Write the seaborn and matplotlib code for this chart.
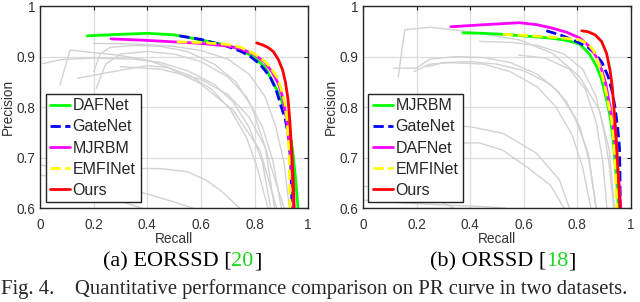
import numpy as np
import matplotlib
matplotlib.use("Agg")
import matplotlib.pyplot as plt
from matplotlib.ticker import FuncFormatter
import seaborn as sns

# ---- data (recall, precision) ----
# (a) EORSSD
dafnet_a_r = [0.176, 0.30, 0.40, 0.50, 0.60, 0.70, 0.75, 0.80, 0.84, 0.875, 0.90, 0.915, 0.93, 0.942, 0.952, 0.962]
dafnet_a_p = [0.941, 0.944, 0.946, 0.943, 0.933, 0.922, 0.913, 0.898, 0.878, 0.843, 0.815, 0.79, 0.755, 0.715, 0.665, 0.60]
gatenet_a_r = [0.52, 0.60, 0.70, 0.75, 0.785, 0.82, 0.858, 0.88, 0.90, 0.915, 0.927, 0.935, 0.940]
gatenet_a_p = [0.941, 0.934, 0.920, 0.91, 0.90, 0.885, 0.86, 0.835, 0.80, 0.775, 0.741, 0.69, 0.60]
mjrbm_a_r = [0.265, 0.40, 0.50, 0.60, 0.70, 0.75, 0.80, 0.835, 0.865, 0.89, 0.905, 0.92, 0.932, 0.940, 0.946]
mjrbm_a_p = [0.935, 0.932, 0.929, 0.926, 0.921, 0.915, 0.904, 0.89, 0.87, 0.845, 0.82, 0.775, 0.72, 0.67, 0.60]
emfinet_a_r = [0.51, 0.60, 0.70, 0.75, 0.80, 0.835, 0.86, 0.885, 0.90, 0.914, 0.922, 0.928, 0.933]
emfinet_a_p = [0.929, 0.928, 0.924, 0.918, 0.905, 0.892, 0.878, 0.858, 0.835, 0.806, 0.770, 0.72, 0.60]
ours_a_r = [0.808, 0.83, 0.85, 0.87, 0.89, 0.905, 0.915, 0.925, 0.932, 0.939, 0.944, 0.948]
ours_a_p = [0.927, 0.923, 0.918, 0.91, 0.893, 0.873, 0.85, 0.815, 0.77, 0.71, 0.66, 0.60]

gray_a = [
    ([0.01, 0.08, 0.2, 0.35, 0.45, 0.55, 0.65, 0.72, 0.78, 0.83, 0.86],
     [0.886, 0.894, 0.897, 0.895, 0.888, 0.872, 0.845, 0.81, 0.76, 0.69, 0.60]),
    ([0.075, 0.112, 0.16, 0.286, 0.40, 0.472, 0.596, 0.72, 0.82, 0.882],
     [0.844, 0.913, 0.91, 0.903, 0.893, 0.88, 0.847, 0.794, 0.715, 0.60]),
    ([0.2, 0.225, 0.26, 0.35, 0.45, 0.55, 0.65, 0.73, 0.79, 0.84, 0.875],
     [0.87, 0.905, 0.918, 0.922, 0.92, 0.91, 0.885, 0.85, 0.80, 0.72, 0.60]),
    ([0.21, 0.245, 0.30, 0.40, 0.50, 0.60, 0.70, 0.77, 0.83, 0.87, 0.90],
     [0.837, 0.885, 0.905, 0.91, 0.905, 0.89, 0.86, 0.82, 0.76, 0.69, 0.60]),
    ([0.14, 0.25, 0.40, 0.48, 0.56, 0.64, 0.71, 0.77, 0.81, 0.85],
     [0.857, 0.868, 0.882, 0.878, 0.862, 0.835, 0.795, 0.74, 0.68, 0.60]),
    ([0.2, 0.35, 0.50, 0.60, 0.70, 0.78, 0.84, 0.88, 0.91, 0.93],
     [0.926, 0.925, 0.92, 0.912, 0.895, 0.865, 0.82, 0.76, 0.69, 0.60]),
    ([0.30, 0.45, 0.60, 0.70, 0.78, 0.84, 0.88, 0.91],
     [0.88, 0.875, 0.855, 0.825, 0.78, 0.72, 0.65, 0.60]),
    ([0.0, 0.05, 0.15, 0.3, 0.45, 0.55, 0.62, 0.68, 0.72, 0.745],
     [0.686, 0.68, 0.679, 0.679, 0.678, 0.672, 0.655, 0.632, 0.612, 0.60]),
    ([0.0, 0.1, 0.2, 0.3, 0.4, 0.5, 0.57],
     [0.665, 0.66, 0.652, 0.64, 0.628, 0.612, 0.60]),
    ([0.15, 0.25, 0.32, 0.38],
     [0.625, 0.62, 0.61, 0.60]),
]

# (b) ORSSD
mjrbm_b_r = [0.373, 0.45, 0.522, 0.60, 0.708, 0.76, 0.808, 0.845, 0.872, 0.89, 0.903, 0.915, 0.924, 0.933, 0.94, 0.947, 0.953]
mjrbm_b_p = [0.947, 0.946, 0.944, 0.941, 0.936, 0.932, 0.925, 0.905, 0.88, 0.855, 0.827, 0.80, 0.774, 0.735, 0.695, 0.65, 0.60]
gatenet_b_r = [0.684, 0.735, 0.783, 0.81, 0.84, 0.866, 0.892, 0.915, 0.93, 0.94, 0.95, 0.957, 0.959, 0.96]
gatenet_b_p = [0.951, 0.943, 0.933, 0.926, 0.918, 0.906, 0.888, 0.86, 0.83, 0.80, 0.76, 0.72, 0.66, 0.60]
dafnet_b_r = [0.328, 0.45, 0.584, 0.65, 0.708, 0.76, 0.808, 0.847, 0.872, 0.891, 0.905, 0.915, 0.925, 0.935, 0.947, 0.956, 0.962]
dafnet_b_p = [0.959, 0.963, 0.967, 0.963, 0.956, 0.948, 0.937, 0.919, 0.898, 0.873, 0.848, 0.82, 0.79, 0.755, 0.695, 0.645, 0.60]
emfinet_b_r = [0.522, 0.60, 0.708, 0.76, 0.808, 0.84, 0.86, 0.875, 0.89, 0.903, 0.916, 0.928, 0.935, 0.94, 0.944, 0.947]
emfinet_b_p = [0.944, 0.942, 0.938, 0.936, 0.933, 0.925, 0.912, 0.893, 0.868, 0.84, 0.805, 0.774, 0.735, 0.695, 0.65, 0.60]
ours_b_r = [0.816, 0.84, 0.866, 0.89, 0.909, 0.922, 0.93, 0.936, 0.942, 0.948, 0.953, 0.959]
ours_b_p = [0.951, 0.949, 0.943, 0.93, 0.906, 0.872, 0.84, 0.80, 0.76, 0.71, 0.66, 0.60]

gray_b = [
    ([0.132, 0.156, 0.25, 0.40, 0.584, 0.708, 0.808, 0.882, 0.919, 0.938],
     [0.86, 0.953, 0.958, 0.949, 0.933, 0.906, 0.86, 0.794, 0.715, 0.60]),
    ([0.113, 0.2, 0.25, 0.35, 0.45, 0.55, 0.65, 0.73, 0.79, 0.84, 0.87],
     [0.877, 0.877, 0.895, 0.90, 0.898, 0.888, 0.865, 0.83, 0.78, 0.71, 0.60]),
    ([0.19, 0.25, 0.33, 0.45, 0.55, 0.65, 0.72, 0.78, 0.82, 0.85],
     [0.87, 0.885, 0.888, 0.885, 0.87, 0.84, 0.80, 0.745, 0.68, 0.60]),
    ([0.24, 0.3, 0.4, 0.5, 0.6, 0.7, 0.76, 0.81, 0.845, 0.87],
     [0.88, 0.888, 0.89, 0.885, 0.872, 0.845, 0.81, 0.76, 0.69, 0.60]),
    ([0.435, 0.55, 0.65, 0.75, 0.82, 0.87, 0.90, 0.92, 0.935],
     [0.93, 0.928, 0.922, 0.905, 0.875, 0.82, 0.75, 0.68, 0.60]),
    ([0.58, 0.68, 0.77, 0.83, 0.87, 0.895, 0.91],
     [0.903, 0.897, 0.875, 0.835, 0.77, 0.69, 0.60]),
    ([0.25, 0.33, 0.40, 0.522, 0.646, 0.733, 0.77],
     [0.765, 0.763, 0.761, 0.748, 0.709, 0.656, 0.60]),
    ([0.25, 0.31, 0.435, 0.52, 0.61, 0.70, 0.75],
     [0.689, 0.729, 0.729, 0.715, 0.682, 0.645, 0.60]),
    ([0.0, 0.1, 0.2, 0.28, 0.34],
     [0.643, 0.64, 0.63, 0.615, 0.60]),
    ([0.0, 0.15, 0.3, 0.45, 0.53],
     [0.616, 0.61, 0.606, 0.603, 0.60]),
]

sns.set_style("white")
plt.rcParams['font.family'] = ['Liberation Sans', 'DejaVu Sans']

fig = plt.figure(figsize=(6.4, 3.02), dpi=100)
ax_a = fig.add_axes([0.0625, 0.311, 0.419, 0.669])
ax_b = fig.add_axes([0.567, 0.311, 0.419, 0.669])

GRAY = "#d2d2d2"
# colours/styles follow legend order (same in both panels)
COLORS = ["#00ff00", "#0000ff", "#ff00ff", "#ffff00", "#ff0000"]
DASHES = ["-", "--", "-", "--", "-"]


def draw_panel(ax, grays, curves):
    for r, p in grays:
        sns.lineplot(x=r, y=p, ax=ax, sort=False, estimator=None, color=GRAY, lw=1.0)
    handles = []
    for i, (name, r, p) in enumerate(curves):
        sns.lineplot(x=r, y=p, ax=ax, sort=False, estimator=None, lw=2.0,
                     color=COLORS[i], linestyle=DASHES[i])
        handles.append(ax.lines[-1])
    ax.set_xlim(0, 1)
    ax.set_ylim(0.6, 1)
    ax.set_xticks([0, 0.2, 0.4, 0.6, 0.8, 1])
    ax.set_yticks([0.6, 0.7, 0.8, 0.9, 1])
    fmt = FuncFormatter(lambda v, pos: "%g" % round(v, 2))
    ax.xaxis.set_major_formatter(fmt)
    ax.yaxis.set_major_formatter(fmt)
    ax.grid(True, color="#dcdcdc", lw=0.9)
    ax.set_axisbelow(True)
    for s in ax.spines.values():
        s.set_color("#262626")
        s.set_linewidth(1.0)
    ax.tick_params(direction="in", top=True, right=True, length=3, width=0.8,
                   labelsize=9.8, labelcolor="#333333")
    ax.tick_params(axis="x", pad=7)
    ax.tick_params(axis="y", pad=3.5)
    ax.set_xlabel("Recall", fontsize=9.8, color="#333333", labelpad=0)
    ax.set_ylabel("Precision", fontsize=9.8, color="#333333", labelpad=1)
    leg = ax.legend(handles, [c[0] for c in curves], loc="lower left",
                    fontsize=11.5, handlelength=1.25, handletextpad=0.15,
                    labelspacing=0.38, borderpad=0.3, borderaxespad=0.35,
                    frameon=True, fancybox=False, framealpha=1)
    leg.get_frame().set_edgecolor("#222222")
    leg.get_frame().set_linewidth(1.0)


draw_panel(ax_a, gray_a, [
    ("DAFNet", dafnet_a_r, dafnet_a_p),
    ("GateNet", gatenet_a_r, gatenet_a_p),
    ("MJRBM", mjrbm_a_r, mjrbm_a_p),
    ("EMFINet", emfinet_a_r, emfinet_a_p),
    ("Ours", ours_a_r, ours_a_p),
])

draw_panel(ax_b, gray_b, [
    ("MJRBM", mjrbm_b_r, mjrbm_b_p),
    ("GateNet", gatenet_b_r, gatenet_b_p),
    ("DAFNet", dafnet_b_r, dafnet_b_p),
    ("EMFINet", emfinet_b_r, emfinet_b_p),
    ("Ours", ours_b_r, ours_b_p),
])

# ---- captions (serif, with green citation numbers) ----
SERIF = ["Liberation Serif", "DejaVu Serif"]
renderer = fig.canvas.get_renderer()
W, H = fig.bbox.width, fig.bbox.height


def caption(cx_px, cy_px, parts, size):
    texts = [fig.text(0, 1 - cy_px / H, s, color=c, fontsize=size, family=SERIF,
                      va="center", ha="left") for s, c in parts]
    widths = [t.get_window_extent(renderer).width for t in texts]
    x = cx_px - sum(widths) / 2
    for t, w in zip(texts, widths):
        t.set_x(x / W)
        x += w


caption(182, 262, [("(a) EORSSD [", "black"), ("20", "#1ed81e"), ("]", "black")], 16.0)
caption(503, 262, [("(b) ORSSD [", "black"), ("18", "#1ed81e"), ("]", "black")], 16.0)
fig.text(1 / W, 1 - 289 / H,
         "Fig. 4.    Quantitative performance comparison on PR curve in two datasets.",
         fontsize=14.9, family=SERIF, va="center", ha="left")

fig.savefig("out.png", dpi=100)
